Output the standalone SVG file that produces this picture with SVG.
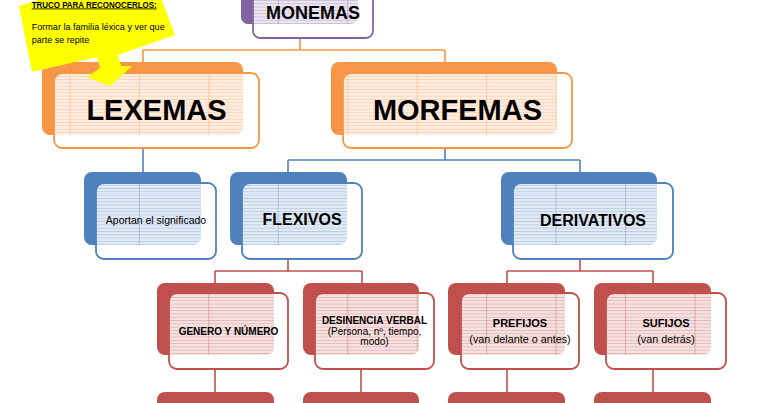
<svg xmlns="http://www.w3.org/2000/svg" width="768" height="403" viewBox="0 0 768 403">
<defs>
  <pattern id="texP" patternUnits="userSpaceOnUse" width="69.45" height="3.3">
    <rect width="69.45" height="0.8" fill="#8064A2" fill-opacity="0.3"/>
    <rect width="0.9" height="3.3" fill="#8064A2" fill-opacity="0.4"/>
  </pattern>
  <pattern id="texO" patternUnits="userSpaceOnUse" width="69.45" height="3.3">
    <rect width="69.45" height="0.8" fill="#F79646" fill-opacity="0.3"/>
    <rect width="0.9" height="3.3" fill="#F79646" fill-opacity="0.4"/>
  </pattern>
  <pattern id="texB" patternUnits="userSpaceOnUse" width="69.45" height="3.3">
    <rect width="69.45" height="0.8" fill="#4F81BD" fill-opacity="0.3"/>
    <rect width="0.9" height="3.3" fill="#4F81BD" fill-opacity="0.4"/>
  </pattern>
  <pattern id="texR" patternUnits="userSpaceOnUse" width="69.45" height="3.3">
    <rect width="69.45" height="0.8" fill="#C0504D" fill-opacity="0.3"/>
    <rect width="0.9" height="3.3" fill="#C0504D" fill-opacity="0.4"/>
  </pattern>
</defs>
<style>
  .bP{fill:#8064A2} .bO{fill:#F79646} .bB{fill:#4F81BD} .bR{fill:#C0504D}
  .front{fill:#fff;fill-opacity:0.83;stroke-width:1.8}
  .fP{stroke:#8064A2} .fO{stroke:#F79646} .fB{stroke:#4F81BD} .fR{stroke:#C0504D}
  .xP{fill:url(#texP)} .xO{fill:url(#texO)} .xB{fill:url(#texB)} .xR{fill:url(#texR)}
  .cO{stroke:#F79646} .cB{stroke:#4F81BD} .cR{stroke:#C0504D}
  .conn path{fill:none;stroke-width:1.6}
  .t{font-family:"Liberation Sans",Arial,Helvetica,sans-serif;text-anchor:middle;fill:#000}
  .b{font-weight:bold}
  .n{font-family:"Liberation Sans",Arial,sans-serif;fill:#000}
</style>
<rect width="768" height="403" fill="#fff"/>

<g id="connectors" class="conn">
  <path class="cO" d="M300,38 V50 M143,50 H445 M143,50 V62 M445,50 V62"/>
  <path class="cB" d="M143,148 V172 M445,148 V160 M288,160 H580 M288,160 V172 M580,160 V172"/>
  <path class="cR" d="M288,259 V271 M215,271 H362 M215,271 V283 M362,271 V283"/>
  <path class="cR" d="M580,259 V271 M507,271 H653 M507,271 V283 M653,271 V283"/>
  <path class="cR" d="M215,369 V392 M361,369 V392 M507,369 V392 M653,369 V392"/>
</g>

<g id="monemas">
  <rect class="bP" x="241" y="-48" width="117" height="72" rx="7"/>
  <rect class="front fP" x="253" y="-37" width="120" height="75" rx="7"/>
  <rect class="xP" x="241" y="-48" width="117" height="72" rx="7"/>
  <text class="t b" x="313" y="19" font-size="18">MONEMAS</text>
</g>

<g id="lexemas">
  <rect class="bO" x="42" y="62" width="201" height="73" rx="8"/>
  <rect class="front fO" x="54" y="73" width="205" height="75" rx="8"/>
  <rect class="xO" x="42" y="62" width="201" height="73" rx="8"/>
  <text class="t b" x="156.5" y="120" font-size="29">LEXEMAS</text>
</g>

<g id="morfemas">
  <rect class="bO" x="331" y="62" width="226" height="73" rx="8"/>
  <rect class="front fO" x="343" y="73" width="229" height="75" rx="8"/>
  <rect class="xO" x="331" y="62" width="226" height="73" rx="8"/>
  <text class="t b" x="457.5" y="120" font-size="29">MORFEMAS</text>
</g>

<g id="aportan">
  <rect class="bB" x="84" y="172" width="117" height="73" rx="8"/>
  <rect class="front fB" x="96" y="183" width="120" height="76" rx="8"/>
  <rect class="xB" x="84" y="172" width="117" height="73" rx="8"/>
  <text class="t" x="156" y="224" font-size="10.5">Aportan el significado</text>
</g>

<g id="flexivos">
  <rect class="bB" x="230" y="172" width="117" height="73" rx="8"/>
  <rect class="front fB" x="242" y="183" width="120" height="76" rx="8"/>
  <rect class="xB" x="230" y="172" width="117" height="73" rx="8"/>
  <text class="t b" x="302" y="225" font-size="16">FLEXIVOS</text>
</g>

<g id="derivativos">
  <rect class="bB" x="501" y="172" width="156" height="73" rx="8"/>
  <rect class="front fB" x="513" y="183" width="160" height="76" rx="8"/>
  <rect class="xB" x="501" y="172" width="156" height="73" rx="8"/>
  <text class="t b" x="593" y="226" font-size="16">DERIVATIVOS</text>
</g>

<g id="genero">
  <rect class="bR" x="157" y="283" width="117" height="72" rx="8"/>
  <rect class="front fR" x="169" y="293" width="119" height="76" rx="8"/>
  <rect class="xR" x="157" y="283" width="117" height="72" rx="8"/>
  <text class="t b" x="228.5" y="335" font-size="10">GENERO Y NÚMERO</text>
</g>

<g id="desinencia">
  <rect class="bR" x="303" y="283" width="116" height="72" rx="8"/>
  <rect class="front fR" x="315" y="293" width="119" height="76" rx="8"/>
  <rect class="xR" x="303" y="283" width="116" height="72" rx="8"/>
  <text class="t b" x="374.5" y="324" font-size="10">DESINENCIA VERBAL</text>
  <text class="t" x="374.5" y="334.5" font-size="10">(Persona, nº, tiempo,</text>
  <text class="t" x="374.5" y="345" font-size="10">modo)</text>
</g>

<g id="prefijos">
  <rect class="bR" x="448" y="283" width="117" height="72" rx="8"/>
  <rect class="front fR" x="461" y="293" width="118" height="76" rx="8"/>
  <rect class="xR" x="448" y="283" width="117" height="72" rx="8"/>
  <text class="t b" x="520" y="327" font-size="11">PREFIJOS</text>
  <text class="t" x="520" y="342.5" font-size="10.8">(van delante o antes)</text>
</g>

<g id="sufijos">
  <rect class="bR" x="594" y="283" width="117" height="72" rx="8"/>
  <rect class="front fR" x="606" y="293" width="120" height="76" rx="8"/>
  <rect class="xR" x="594" y="283" width="117" height="72" rx="8"/>
  <text class="t b" x="666" y="327" font-size="11">SUFIJOS</text>
  <text class="t" x="666" y="342.5" font-size="10.8">(van detrás)</text>
</g>

<g id="genero-child">
  <rect class="bR" x="157" y="392" width="117" height="72" rx="8"/>
  <rect class="xR" x="157" y="392" width="117" height="72" rx="8"/>
</g>
<g id="desinencia-child">
  <rect class="bR" x="303" y="392" width="116" height="72" rx="8"/>
  <rect class="xR" x="303" y="392" width="116" height="72" rx="8"/>
</g>
<g id="prefijos-child">
  <rect class="bR" x="448" y="392" width="117" height="72" rx="8"/>
  <rect class="xR" x="448" y="392" width="117" height="72" rx="8"/>
</g>
<g id="sufijos-child">
  <rect class="bR" x="594" y="392" width="117" height="72" rx="8"/>
  <rect class="xR" x="594" y="392" width="117" height="72" rx="8"/>
</g>

<g id="truco">
  <polygon fill="#FFFF00" points="19,6 45,-2 161,-2 175,35 118,55 121,66 132,66 110,86 87,77 100,68 97,57 32,72"/>
  <text class="n" x="31.7" y="7.5" font-size="8.3" font-weight="bold" text-decoration="underline" textLength="125" lengthAdjust="spacingAndGlyphs">TRUCO PARA RECONOCERLOS:</text>
  <text class="n" x="31.7" y="29.5" font-size="9" textLength="133" lengthAdjust="spacingAndGlyphs">Formar la familia léxica y ver que</text>
  <text class="n" x="31.7" y="43" font-size="9">parte se repite</text>
</g>
</svg>
